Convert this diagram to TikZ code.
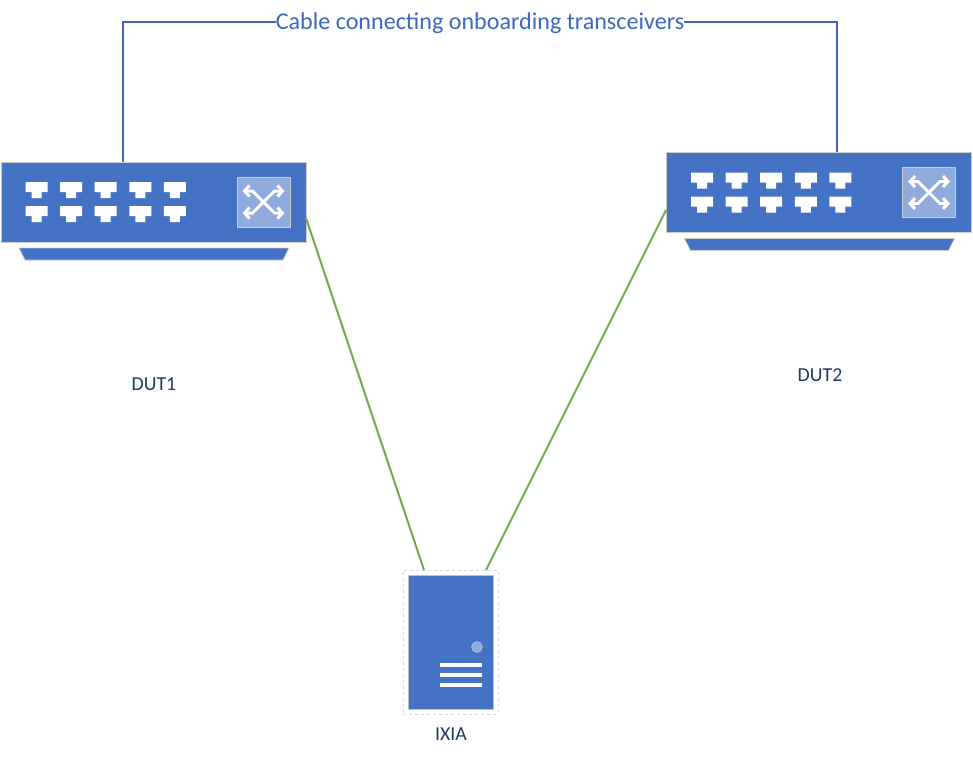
\documentclass[tikz,border=0pt]{standalone}
\usepackage{fontspec}
\setmainfont{Carlito}
\usetikzlibrary{arrows.meta}
\definecolor{devblue}{HTML}{4472C4}
\definecolor{iconblue}{HTML}{8FAADC}
\definecolor{cableblue}{HTML}{3F69B8}
\definecolor{linkgreen}{HTML}{70AD47}
\definecolor{labelnavy}{HTML}{203864}
\tikzset{
    switchbody/.style={
           rectangle,
           fill=devblue,
           draw=black!20,
           line width=1pt,
           minimum width=305pt,
           minimum height=80pt,
           inner sep=0pt,
           },
    iconbox/.style={
           rectangle,
           fill=iconblue,
           draw=black!20,
           line width=0.8pt,
           minimum width=53pt,
           minimum height=50pt,
           inner sep=0pt,
           },
    serverbody/.style={
           rectangle,
           fill=devblue,
           draw=black!25,
           line width=1pt,
           minimum width=85pt,
           minimum height=134pt,
           inner sep=0pt,
           },
    serverframe/.style={
           rectangle,
           draw=black!15,
           dashed,
           line width=0.9pt,
           minimum width=95pt,
           minimum height=144pt,
           inner sep=0pt,
           },
    devlabel/.style={
           text=labelnavy,
           font=\fontsize{19.8pt}{22pt}\selectfont,
           inner sep=0pt,
           },
    cablelabel/.style={
           text=cableblue,
           font=\fontsize{24.1pt}{26pt}\selectfont,
           fill=white,
           inner sep=0pt,
           },
    cable/.style={cableblue, line width=2pt},
    link/.style={linkgreen, line width=2pt},
    arrowline/.style={white, line width=3pt, {Straight Barb[length=5pt,width=11pt]}-{Straight Barb[length=5pt,width=11pt]}},
    porthole/.pic={
      \fill[white] (-11,-8) -- (11,-8) -- (11,2) -- (5,2) -- (5,8) -- (-5,8) -- (-5,2) -- (-11,2) -- cycle;
    },
    switchface/.pic={
      % base under the body
      \fill[devblue, draw=black!20, line width=0.8pt] (-134.5,46) -- (135.5,46) -- (129.5,58) -- (-128.5,58) -- cycle;
      % two rows of ports
      \foreach \i in {0,...,4} {
        \pic at (-117+34.6*\i,-12) {porthole};
        \pic at (-117+34.6*\i,12) {porthole};
      }
      % icon with the crossing arrows
      \node[iconbox] at (110,0) {};
      \draw[arrowline] (89,-11) -- (99,-11) -- (121,11) -- (131,11);
      \draw[arrowline] (89,11) -- (99,11) -- (121,-11) -- (131,-11);
    },
}

\begin{document}
\begin{tikzpicture}[x=1pt,y=-1pt]
 \useasboundingbox (0,0) rectangle (973,756);

 % the two switches
 \node[switchbody] (DUT1) at (153.5,202) {};
 \pic at (DUT1.center) {switchface};
 \node[switchbody] (DUT2) at (819,192.5) {};
 \pic at (DUT2.center) {switchface};

 % server
 \node[serverframe] (FRAME) at (450.5,642) {};
 \node[serverbody] (IXIA) at (450.5,642) {};
 \fill[iconblue, draw=black!20, line width=0.4pt] (477,647) circle (5.5);
 \foreach \y in {665,675,685} {
   \draw[white, line width=3.2pt] (440,\y) -- (482,\y);
 }

 % labels
 \node[devlabel] (DUT1LABEL) at (154,384) {DUT1};
 \node[devlabel] (DUT2LABEL) at (820,375) {DUT2};
 \node[devlabel] (IXIALABEL) at (451,734) {IXIA};
 \node[cablelabel] (CABLE) at (480,23) {Cable connecting onboarding transceivers};

 % ends of the connectors on the device edges
 \coordinate (TOP1) at (123,161.5);
 \coordinate (TOP2) at (837,152);
 \coordinate (SIDE1) at (306,218);
 \coordinate (SIDE2) at (666,210);
 \coordinate (IN1) at (424,570);
 \coordinate (IN2) at (486,570);

 \draw[cable] (TOP1) |- (CABLE.west |- 480,22);
 \draw[cable] (TOP2) |- (CABLE.east |- 480,22);
 \draw[link] (SIDE1) -- (IN1);
 \draw[link] (SIDE2) -- (IN2);
\end{tikzpicture}
\end{document}
